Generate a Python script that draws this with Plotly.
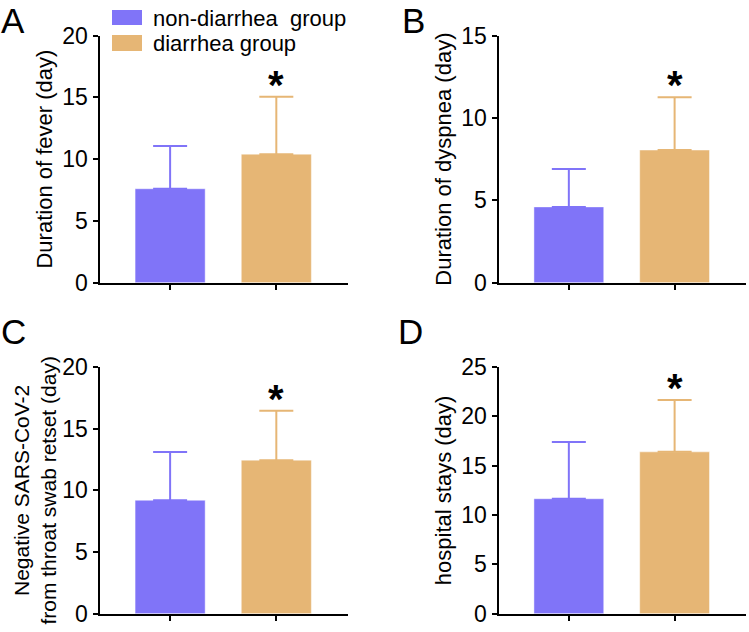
import plotly.graph_objects as go

# ---------------- data ----------------
groups = ["non-diarrhea\u00a0 group", "diarrhea group"]

fever_mean = [7.6, 10.4]
fever_sd = [3.45, 4.65]

dyspnea_mean = [4.6, 8.05]
dyspnea_sd = [2.3, 3.2]

negative_mean = [9.2, 12.45]
negative_sd = [3.9, 4.0]

hospital_mean = [11.65, 16.4]
hospital_sd = [5.75, 5.25]

panel_letters = ["A", "B", "C", "D"]
y_titles = [
    "Duration of fever (day)",
    "Duration of dyspnea (day)",
    "Negative SARS-CoV-2<br>from throat swab retset (day)",
    "hospital stays (day)",
]
y_max = [20, 15, 20, 25]
significance = ["*", "*", "*", "*"]

panels = [
    (fever_mean, fever_sd),
    (dyspnea_mean, dyspnea_sd),
    (negative_mean, negative_sd),
    (hospital_mean, hospital_sd),
]

# ---------------- style / geometry ----------------
colors = ["#8074F8", "#E6B675"]
W, H = 749, 632
FONT = "Arial, Liberation Sans, Helvetica, sans-serif"
col_x = [[99.5 / W, 348 / W], [498.5 / W, 746 / W]]
row_y = [[1 - 282.7 / H, 1 - 35.5 / H], [1 - 613.7 / H, 1 - 367 / H]]
letter_px = [(0, 0), (401, 0), (0, 311), (397, 311)]   # box top-left
title_standoff = [4, 4, 0, 4]
title_size = [22, 22, 21, 22]

fig = go.Figure()
layout = dict(
    template="none",
    width=W, height=H,
    margin=dict(l=0, r=0, t=0, b=0, autoexpand=False),
    paper_bgcolor="white", plot_bgcolor="white",
    font=dict(family=FONT, size=22, color="black"),
    showlegend=False,
    barmode="overlay",
    annotations=[], shapes=[],
)

for i, (means, sds) in enumerate(panels):
    r, c = divmod(i, 2)
    xa = "x" if i == 0 else f"x{i+1}"
    ya = "y" if i == 0 else f"y{i+1}"
    xkey = "xaxis" if i == 0 else f"xaxis{i+1}"
    ykey = "yaxis" if i == 0 else f"yaxis{i+1}"
    for k in range(len(groups)):
        fig.add_trace(go.Bar(
            x=[groups[k]], y=[means[k]], xaxis=xa, yaxis=ya,
            marker=dict(color=colors[k], line=dict(color="rgba(255,255,255,0.45)", width=1)),
            width=0.66,
            error_y=dict(type="data", symmetric=False, array=[sds[k]], arrayminus=[0],
                         color=colors[k], thickness=2, width=17),
            showlegend=False, name=groups[k],
        ))
    layout[xkey] = dict(
        domain=col_x[c], anchor=ya, type="category",
        categoryorder="array", categoryarray=groups,
        range=[-0.665, 1.675], showline=True, linecolor="black", linewidth=2,
        ticks="outside", ticklen=5, tickwidth=2, tickcolor="black",
        showticklabels=False, showgrid=False, zeroline=False, fixedrange=True,
        automargin=False,
    )
    layout[ykey] = dict(
        domain=row_y[r], anchor=xa, range=[0, y_max[i]], dtick=5,
        showline=True, linecolor="black", linewidth=2,
        ticks="outside", ticklen=5, tickwidth=2, tickcolor="black",
        tickfont=dict(size=23), showgrid=False, zeroline=False, fixedrange=True,
        title=dict(text=y_titles[i], font=dict(size=title_size[i]),
                   standoff=title_standoff[i]),
        automargin=False,
    )
    # significance star
    layout["annotations"].append(dict(
        x=groups[1], y=means[1] + sds[1], xref=xa, yref=ya,
        text=f"<b>{significance[i]}</b>", showarrow=False,
        font=dict(size=40, family=FONT), yanchor="middle", yshift=12,
    ))
    # panel letter
    lx, ly = letter_px[i]
    layout["annotations"].append(dict(
        x=lx / W, y=1 - ly / H, xref="paper", yref="paper",
        xanchor="left", yanchor="top", borderpad=0,
        text=panel_letters[i], showarrow=False, font=dict(size=35, family=FONT),
    ))

# manual legend (large swatches as in the reference)
sw_x0, sw_x1 = 112, 142
sw_rows = [(10, 25), (35, 51)]
text_y = [18, 43.5]
for k, name in enumerate(groups):
    y0, y1 = sw_rows[k]
    layout["shapes"].append(dict(
        type="rect", xref="paper", yref="paper",
        x0=sw_x0 / W, x1=sw_x1 / W, y0=1 - y1 / H, y1=1 - y0 / H,
        fillcolor=colors[k], line=dict(width=0),
    ))
    layout["annotations"].append(dict(
        x=151 / W, y=1 - text_y[k] / H, xref="paper", yref="paper",
        xanchor="left", yanchor="middle", text=name, showarrow=False,
        font=dict(size=22, family=FONT),
    ))

fig.update_layout(**layout)
fig.write_html("out.html",
               config={"displayModeBar": False},
               post_script="document.body.style.margin='0px';")
